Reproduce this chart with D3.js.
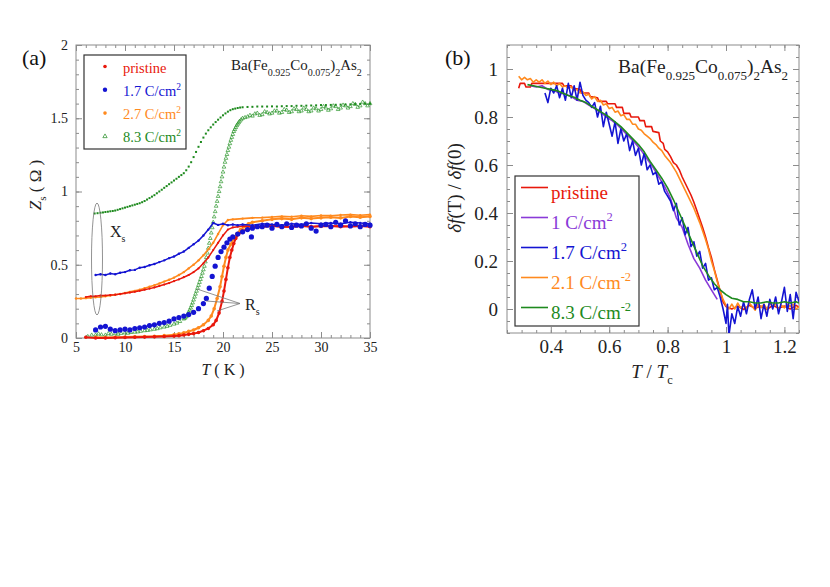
<!DOCTYPE html>
<html>
<head>
<meta charset="utf-8">
<script src="https://cdn.jsdelivr.net/npm/d3@7"></script>
<style>
  body { margin: 0; background: #fff; }
  svg { display: block; font-family: "Liberation Serif", "Times New Roman", serif; }
</style>
</head>
<body>
<svg id="chart" width="830" height="587"></svg>
<script>
/* ---------- colours ---------- */
const RED = '#e8180c', BLUE = '#1414d2', ORANGE = '#ff8a1e', GREEN = '#1e8a1e', PURPLE = '#8a3ad8';
const FRAME = '#8c8c8c';
const SERIF = '"Liberation Serif", "Times New Roman", serif';

/* ---------- panel (a) data : [T (K), Z (ohm)] ---------- */
const pristineXs = [[6,0.28],[6.5,0.285],[7,0.285],[7.5,0.29],[8,0.29],[8.5,0.293],[9,0.296],[9.5,0.3],[10,0.305],[10.5,0.31],[11,0.315],[11.5,0.322],[12,0.33],[12.5,0.337],[13,0.345],[13.5,0.355],[14,0.365],[14.5,0.375],[15,0.388],[15.5,0.4],[16,0.415],[16.5,0.43],[17,0.45],[17.5,0.475],[18,0.51],[18.5,0.55],[19,0.6],[19.5,0.65],[20,0.7],[20.5,0.74],[21,0.755],[21.5,0.76],[22,0.762],[23,0.765],[24,0.76],[25,0.765],[26,0.76],[27,0.763],[28,0.766],[29,0.76],[30,0.765],[31,0.762],[32,0.766],[33,0.76],[34,0.765],[35,0.762]];
const pristineRs = [[6,0.005],[7,0.0],[8,0.0],[9,0.002],[10,0.003],[11,0.005],[12,0.006],[13,0.008],[14,0.01],[15,0.013],[15.5,0.016],[16,0.02],[16.5,0.025],[17,0.03],[17.5,0.038],[18,0.05],[18.5,0.065],[19,0.09],[19.3,0.12],[19.6,0.17],[19.9,0.25],[20.1,0.32],[20.3,0.4],[20.5,0.48],[20.7,0.55],[20.9,0.6],[21.1,0.645],[21.3,0.68],[21.6,0.71],[22,0.73],[22.5,0.745],[23,0.755],[24,0.76],[25,0.765],[26,0.76],[27,0.758],[28,0.765],[29,0.76],[30,0.762],[31,0.765],[32,0.76],[33,0.762],[34,0.765],[35,0.76]];

const c17Xs = [[7,0.43],[7.5,0.435],[8,0.43],[8.5,0.44],[9,0.435],[9.5,0.445],[10,0.45],[10.5,0.462],[11,0.465],[11.5,0.48],[12,0.485],[12.5,0.497],[13,0.505],[13.5,0.518],[14,0.53],[14.5,0.545],[15,0.556],[15.5,0.575],[16,0.59],[16.5,0.615],[17,0.64],[17.5,0.665],[18,0.7],[18.5,0.74],[19,0.785],[19.5,0.772],[20,0.78],[20.5,0.77],[21,0.775],[21.5,0.77],[22,0.775],[23,0.77],[24,0.78],[25,0.775],[26,0.77],[27,0.78],[28,0.775],[29,0.785],[30,0.78],[31,0.785],[32,0.78],[33,0.79],[34,0.785],[35,0.78]];
const c17Rs = [[7,0.055],[7.5,0.075],[8,0.08],[8.5,0.06],[9,0.05],[9.5,0.055],[10,0.06],[10.5,0.055],[11,0.065],[11.5,0.07],[12,0.075],[12.5,0.085],[13,0.09],[13.5,0.1],[14,0.105],[14.5,0.115],[15,0.13],[15.5,0.14],[16,0.15],[16.5,0.16],[17,0.175],[17.5,0.2],[18,0.235],[18.3,0.27],[18.6,0.34],[18.9,0.42],[19.2,0.49],[19.5,0.55],[19.8,0.59],[20.1,0.62],[20.4,0.65],[20.7,0.675],[21,0.69],[21.5,0.71],[22,0.725],[22.5,0.74],[22.9,0.69],[23,0.75],[23.5,0.76],[24,0.76],[24.5,0.77],[25,0.75],[25.5,0.775],[26,0.76],[26.5,0.78],[27,0.755],[27.5,0.77],[28,0.765],[28.5,0.78],[29,0.75],[29.5,0.73],[30,0.77],[30.5,0.775],[31,0.76],[31.5,0.79],[32,0.77],[32.5,0.8],[33,0.765],[33.5,0.78],[34,0.76],[34.5,0.775],[35,0.77]];

const c27Xs = [[5,0.27],[5.5,0.27],[6,0.272],[6.5,0.275],[7,0.278],[7.5,0.28],[8,0.285],[8.5,0.29],[9,0.295],[9.5,0.3],[10,0.307],[10.5,0.315],[11,0.322],[11.5,0.33],[12,0.34],[12.5,0.35],[13,0.36],[13.5,0.372],[14,0.385],[14.5,0.398],[15,0.412],[15.5,0.43],[16,0.45],[16.5,0.475],[17,0.5],[17.5,0.53],[18,0.565],[18.5,0.605],[19,0.65],[19.5,0.71],[20,0.77],[20.5,0.805],[21,0.81],[22,0.815],[23,0.82],[24,0.822],[25,0.826],[26,0.83],[27,0.828],[28,0.834],[29,0.83],[30,0.836],[31,0.835],[32,0.84],[33,0.842],[34,0.838],[35,0.842]];
const c27Rs = [[7,0.005],[8,0.003],[9,0.005],[10,0.006],[11,0.008],[12,0.01],[13,0.012],[14,0.016],[15,0.022],[15.5,0.028],[16,0.035],[16.5,0.045],[17,0.055],[17.5,0.07],[18,0.09],[18.5,0.12],[18.8,0.15],[19.1,0.2],[19.4,0.27],[19.7,0.35],[19.9,0.42],[20.1,0.49],[20.3,0.55],[20.5,0.6],[20.8,0.64],[21.1,0.68],[21.4,0.71],[21.8,0.74],[22.2,0.76],[22.6,0.78],[23,0.79],[24,0.8],[25,0.81],[26,0.815],[27,0.81],[28,0.82],[29,0.815],[30,0.82],[31,0.825],[32,0.82],[33,0.83],[34,0.825],[35,0.83]];

const c83Xs = [[6.9,0.85],[7.2,0.852],[7.5,0.855],[7.75,0.857],[8,0.86],[8.25,0.862],[8.5,0.865],[8.75,0.867],[9,0.87],[9.25,0.875],[9.5,0.88],[9.75,0.885],[10,0.89],[10.25,0.895],[10.5,0.9],[10.75,0.905],[11,0.91],[11.25,0.915],[11.5,0.92],[11.75,0.927],[12,0.935],[12.25,0.945],[12.5,0.955],[12.75,0.965],[13,0.975],[13.25,0.988],[13.5,1.0],[13.75,1.012],[14,1.025],[14.25,1.037],[14.5,1.05],[14.75,1.062],[15,1.075],[15.25,1.087],[15.5,1.1],[15.75,1.112],[16,1.125],[16.25,1.145],[16.5,1.17],[16.75,1.2],[17,1.235],[17.25,1.27],[17.5,1.305],[17.75,1.338],[18,1.368],[18.25,1.395],[18.5,1.418],[18.75,1.438],[19,1.457],[19.25,1.474],[19.5,1.49],[19.75,1.505],[20,1.52],[20.25,1.533],[20.5,1.545],[20.75,1.555],[21,1.562],[21.25,1.566],[21.5,1.57],[21.75,1.573],[22,1.575],[22.5,1.577],[23,1.578],[23.5,1.58],[24,1.58],[24.5,1.58],[25,1.581],[25.5,1.58],[26,1.582],[26.5,1.583],[27,1.583],[27.5,1.585],[28,1.585],[28.5,1.586],[29,1.587],[29.5,1.588],[30,1.59],[30.5,1.59],[31,1.591],[31.5,1.592],[32,1.593],[32.5,1.594],[33,1.595],[33.5,1.597],[34,1.598],[34.5,1.6],[35,1.6]];
const c83Rs = [[6.2,0.01],[6.6,0.02],[7,0.02],[7.3,0.028],[7.6,0.022],[8,0.02],[8.3,0.03],[8.6,0.026],[9,0.03],[9.3,0.026],[9.6,0.032],[10,0.035],[10.3,0.033],[10.6,0.038],[11,0.04],[11.3,0.042],[11.6,0.046],[12,0.05],[12.3,0.052],[12.6,0.056],[13,0.06],[13.3,0.064],[13.6,0.07],[14,0.075],[14.3,0.08],[14.6,0.087],[15,0.095],[15.3,0.102],[15.6,0.113],[16,0.13],[16.1,0.135],[16.2,0.143],[16.3,0.15],[16.4,0.163],[16.5,0.176],[16.6,0.19],[16.7,0.205],[16.8,0.222],[16.9,0.24],[17,0.26],[17.1,0.28],[17.2,0.3],[17.3,0.32],[17.4,0.34],[17.5,0.36],[17.6,0.38],[17.7,0.4],[17.8,0.42],[17.9,0.443],[18,0.466],[18.1,0.49],[18.2,0.52],[18.3,0.55],[18.4,0.58],[18.5,0.613],[18.6,0.647],[18.7,0.68],[18.8,0.717],[18.9,0.753],[19,0.79],[19.1,0.827],[19.2,0.863],[19.3,0.9],[19.4,0.933],[19.5,0.967],[19.6,1.0],[19.7,1.033],[19.8,1.067],[19.9,1.1],[20,1.133],[20.1,1.167],[20.2,1.2],[20.3,1.227],[20.4,1.253],[20.5,1.28],[20.6,1.303],[20.7,1.327],[20.8,1.35],[20.9,1.37],[21,1.39],[21.1,1.41],[21.2,1.423],[21.3,1.437],[21.4,1.45],[21.5,1.46],[21.6,1.47],[21.7,1.48],[21.85,1.49],[22,1.5],[22.25,1.505],[22.5,1.51],[22.75,1.52],[23,1.515],[23.25,1.53],[23.5,1.535],[23.75,1.52],[24,1.525],[24.25,1.545],[24.5,1.54],[24.75,1.53],[25,1.535],[25.25,1.55],[25.5,1.55],[25.75,1.535],[26,1.54],[26.25,1.56],[26.5,1.555],[26.75,1.54],[27,1.545],[27.25,1.565],[27.5,1.56],[27.75,1.545],[28,1.55],[28.25,1.57],[28.5,1.56],[28.75,1.545],[29,1.55],[29.25,1.57],[29.5,1.565],[29.75,1.55],[30,1.56],[30.25,1.58],[30.5,1.57],[30.75,1.555],[31,1.565],[31.25,1.585],[31.5,1.58],[31.75,1.56],[32,1.57],[32.25,1.59],[32.5,1.585],[32.75,1.57],[33,1.58],[33.25,1.6],[33.5,1.595],[33.75,1.575],[34,1.585],[34.25,1.61],[34.5,1.6],[34.75,1.585],[35,1.6]];

const legendA = ['pristine', '1.7 C/cm', '2.7 C/cm', '8.3 C/cm'];

/* ---------- panel (b) data : [T/Tc, df(T)/df(0)] ---------- */
const bPristine = [[0.29,0.92],[0.295,0.94],[0.31,0.94],[0.315,0.925],[0.33,0.925],[0.335,0.94],[0.44,0.94],[0.445,0.93],[0.47,0.93],[0.475,0.92],[0.5,0.915],[0.505,0.9],[0.53,0.9],[0.535,0.885],[0.56,0.88],[0.565,0.865],[0.59,0.865],[0.595,0.855],[0.62,0.855],[0.625,0.84],[0.645,0.84],[0.65,0.815],[0.67,0.815],[0.675,0.8],[0.7,0.8],[0.705,0.785],[0.72,0.785],[0.725,0.76],[0.745,0.76],[0.75,0.74],[0.77,0.735],[0.775,0.7],[0.785,0.69],[0.79,0.665],[0.8,0.655],[0.81,0.635],[0.82,0.61],[0.83,0.6],[0.84,0.58],[0.85,0.55],[0.86,0.525],[0.87,0.5],[0.88,0.475],[0.89,0.445],[0.9,0.41],[0.91,0.375],[0.92,0.34],[0.93,0.3],[0.94,0.255],[0.95,0.215],[0.96,0.165],[0.97,0.12],[0.98,0.075],[0.99,0.03],[1.0,0.01],[1.02,0.0],[1.04,0.012],[1.06,-0.002],[1.08,0.015],[1.1,0.003],[1.12,0.012],[1.14,-0.002],[1.16,0.015],[1.18,0.004],[1.2,0.012],[1.22,0.0],[1.24,0.015],[1.25,0.008]];
const b1 = [[0.33,0.93],[0.35,0.925],[0.37,0.93],[0.39,0.915],[0.41,0.91],[0.43,0.9],[0.45,0.895],[0.47,0.885],[0.49,0.87],[0.51,0.865],[0.53,0.85],[0.55,0.835],[0.57,0.82],[0.59,0.8],[0.61,0.785],[0.63,0.765],[0.65,0.74],[0.67,0.715],[0.69,0.69],[0.71,0.66],[0.73,0.625],[0.75,0.59],[0.77,0.55],[0.79,0.51],[0.81,0.46],[0.83,0.38],[0.85,0.34],[0.87,0.27],[0.89,0.21],[0.91,0.17],[0.93,0.12],[0.95,0.08],[0.97,0.04]];
const b17 = [[0.38,0.9],[0.39,0.86],[0.4,0.92],[0.41,0.9],[0.42,0.93],[0.43,0.88],[0.44,0.92],[0.45,0.87],[0.46,0.94],[0.47,0.88],[0.48,0.93],[0.49,0.87],[0.5,0.945],[0.51,0.89],[0.52,0.87],[0.53,0.86],[0.54,0.84],[0.55,0.86],[0.56,0.8],[0.57,0.845],[0.58,0.76],[0.59,0.82],[0.6,0.77],[0.61,0.72],[0.62,0.78],[0.63,0.69],[0.64,0.75],[0.65,0.7],[0.66,0.73],[0.67,0.66],[0.68,0.7],[0.69,0.64],[0.7,0.67],[0.71,0.6],[0.72,0.65],[0.73,0.58],[0.74,0.6],[0.75,0.56],[0.76,0.57],[0.77,0.52],[0.78,0.53],[0.79,0.49],[0.8,0.47],[0.81,0.45],[0.82,0.41],[0.83,0.44],[0.84,0.35],[0.85,0.38],[0.86,0.31],[0.87,0.34],[0.88,0.26],[0.89,0.28],[0.9,0.22],[0.91,0.24],[0.92,0.17],[0.93,0.19],[0.94,0.12],[0.95,0.13],[0.96,0.08],[0.97,0.09],[0.98,0.05],[0.99,0.0],[1.0,-0.06],[1.005,0.02],[1.01,-0.11],[1.02,-0.02],[1.03,-0.06],[1.04,0.01],[1.05,-0.03],[1.06,0.03],[1.07,-0.02],[1.08,0.04],[1.09,0.08],[1.1,0.0],[1.11,0.05],[1.12,-0.04],[1.13,0.02],[1.14,-0.03],[1.15,0.04],[1.16,0.0],[1.17,0.05],[1.18,-0.02],[1.19,0.03],[1.2,0.09],[1.21,-0.01],[1.22,0.06],[1.23,-0.04],[1.24,0.07],[1.25,0.03]];
const b21 = [[0.29,0.97],[0.3,0.955],[0.31,0.965],[0.32,0.955],[0.33,0.96],[0.34,0.945],[0.35,0.955],[0.36,0.945],[0.37,0.955],[0.38,0.94],[0.39,0.95],[0.4,0.935],[0.41,0.945],[0.42,0.93],[0.43,0.94],[0.44,0.925],[0.45,0.93],[0.46,0.92],[0.47,0.925],[0.48,0.91],[0.49,0.915],[0.5,0.9],[0.51,0.905],[0.52,0.89],[0.53,0.895],[0.54,0.875],[0.55,0.885],[0.56,0.865],[0.57,0.87],[0.58,0.85],[0.59,0.855],[0.6,0.835],[0.61,0.84],[0.62,0.82],[0.63,0.825],[0.64,0.805],[0.65,0.81],[0.66,0.79],[0.67,0.79],[0.68,0.77],[0.69,0.77],[0.7,0.75],[0.71,0.745],[0.72,0.73],[0.73,0.72],[0.74,0.71],[0.75,0.695],[0.76,0.685],[0.77,0.67],[0.78,0.66],[0.79,0.64],[0.8,0.625],[0.81,0.61],[0.82,0.59],[0.83,0.57],[0.84,0.545],[0.85,0.52],[0.86,0.495],[0.87,0.47],[0.88,0.445],[0.89,0.42],[0.9,0.39],[0.91,0.36],[0.92,0.325],[0.93,0.29],[0.94,0.25],[0.95,0.2],[0.96,0.16],[0.97,0.115],[0.98,0.075],[0.99,0.04],[1.0,0.015],[1.01,0.0],[1.02,0.02],[1.03,0.0],[1.04,0.025],[1.05,0.005],[1.06,0.015],[1.07,0.0],[1.08,0.025],[1.09,0.01],[1.1,-0.005],[1.11,0.02],[1.12,0.005],[1.13,0.02],[1.14,0.0],[1.15,0.025],[1.16,0.01],[1.17,0.02],[1.18,0.0],[1.19,0.015],[1.2,0.005],[1.21,0.02],[1.22,0.01],[1.23,0.02],[1.24,0.0],[1.25,0.01]];
const b83 = [[0.32,0.935],[0.34,0.93],[0.36,0.925],[0.38,0.92],[0.4,0.915],[0.42,0.91],[0.44,0.9],[0.46,0.89],[0.48,0.882],[0.5,0.87],[0.52,0.86],[0.54,0.845],[0.56,0.83],[0.58,0.815],[0.6,0.8],[0.62,0.78],[0.64,0.76],[0.66,0.735],[0.68,0.71],[0.7,0.685],[0.72,0.655],[0.74,0.615],[0.76,0.58],[0.78,0.545],[0.8,0.505],[0.82,0.455],[0.84,0.4],[0.86,0.345],[0.88,0.29],[0.9,0.235],[0.92,0.18],[0.94,0.14],[0.96,0.105],[0.98,0.08],[1.0,0.06],[1.02,0.045],[1.04,0.04],[1.06,0.03],[1.08,0.03],[1.1,0.025],[1.12,0.025],[1.14,0.03],[1.16,0.025],[1.18,0.025],[1.2,0.03],[1.22,0.025],[1.24,0.03],[1.25,0.025]];

const legendB = ['pristine', '1 C/cm', '1.7 C/cm', '2.1 C/cm', '8.3 C/cm'];
const legendBExp = ['', '2', '2', '-2', '-2'];

/* ---------- ticks ---------- */
const aXTicks = [5, 10, 15, 20, 25, 30, 35];
const aYTicks = [0, 0.5, 1, 1.5, 2];
const bXTicks = [0.4, 0.6, 0.8, 1, 1.2];
const bYTicks = [0, 0.2, 0.4, 0.6, 0.8, 1];

const svg = d3.select('#chart');
svg.append('rect').attr('width', 830).attr('height', 587).attr('fill', '#fff');

/* helper: frame with inward ticks on all four sides */
function drawFrame(g, x, y, o) {
  const [x0, x1] = x.range(), [y0, y1] = y.range();
  const sides = [
    [d3.axisBottom(x), `translate(0,${y0})`, true],
    [d3.axisTop(x), `translate(0,${y1})`, false],
    [d3.axisLeft(y), `translate(${x0},0)`, true],
    [d3.axisRight(y), `translate(${x1},0)`, false]
  ];
  sides.forEach(([ax, tr, lab], i) => {
    const isX = i < 2;
    const maj = isX ? o.xMaj : o.yMaj, min = isX ? o.xMin : o.yMin;
    g.append('g').attr('transform', tr)
      .call(ax.tickValues(min).tickSizeInner(-3).tickSizeOuter(0).tickFormat(''))
      .call(s => s.select('.domain').remove())
      .selectAll('line').attr('stroke', FRAME);
    const a = g.append('g').attr('transform', tr)
      .call(ax.tickValues(maj).tickSizeInner(-6).tickSizeOuter(0)
        .tickPadding(isX ? o.xPad : o.yPad).tickFormat(lab ? d3.format('') : ''))
      .call(s => s.select('.domain').remove());
    a.attr('font-family', SERIF);
    a.selectAll('line').attr('stroke', FRAME);
    a.selectAll('text').style('font-family', SERIF)
      .attr('font-size', o.fs).attr('fill', '#222');
  });
  g.append('rect').attr('x', x0).attr('y', y1).attr('width', x1 - x0).attr('height', y0 - y1)
    .attr('fill', 'none').attr('stroke', FRAME).attr('stroke-width', 1);
}

function range(a, b, s) { return d3.range(Math.round((b - a) / s) + 1).map(i => +(a + i * s).toFixed(3)); }

/* ======================= PANEL (a) ======================= */
const ga = svg.append('g');
const xa = d3.scaleLinear().domain([5, 35]).range([76, 370]);
const ya = d3.scaleLinear().domain([0, 2]).range([338, 45]);
drawFrame(ga, xa, ya, {
  xMaj: aXTicks, xMin: range(5, 35, 1), yMaj: aYTicks, yMin: range(0, 2, 0.1),
  xPad: 4, yPad: 8, fs: 14
});

const lineA = d3.line().x(d => xa(d[0])).y(d => ya(d[1]));
const plotA = ga.append('g');

// 8.3 C/cm2 (green) : Xs small squares, Rs small open triangles
plotA.selectAll('.g83r').data(c83Rs).join('path').attr('class', 'g83r')
  .attr('transform', d => `translate(${xa(d[0])},${ya(d[1])})`)
  .attr('d', d3.symbol(d3.symbolTriangle, 6)).attr('fill', 'none')
  .attr('stroke', '#2c962c').attr('stroke-width', 0.7);
plotA.selectAll('.g83x').data(c83Xs).join('rect').attr('class', 'g83x')
  .attr('x', d => xa(d[0]) - 1).attr('y', d => ya(d[1]) - 1)
  .attr('width', 2).attr('height', 2).attr('fill', GREEN);

// 2.7 C/cm2 (orange)
[c27Xs, c27Rs].forEach((s, i) => {
  plotA.append('path').datum(s).attr('d', lineA).attr('fill', 'none')
    .attr('stroke', ORANGE).attr('stroke-width', i ? 2 : 1.6);
  plotA.selectAll(null).data(s).join('circle')
    .attr('cx', d => xa(d[0])).attr('cy', d => ya(d[1])).attr('r', i ? 1.8 : 1.2).attr('fill', ORANGE);
});

// pristine (red)
[pristineXs, pristineRs].forEach((s, i) => {
  plotA.append('path').datum(s).attr('d', lineA).attr('fill', 'none')
    .attr('stroke', RED).attr('stroke-width', i ? 2 : 1.5);
  plotA.selectAll(null).data(s).join('circle')
    .attr('cx', d => xa(d[0])).attr('cy', d => ya(d[1])).attr('r', i ? 1.8 : 1.1).attr('fill', RED);
});

// 1.7 C/cm2 (blue)
plotA.append('path').datum(c17Xs).attr('d', lineA).attr('fill', 'none')
  .attr('stroke', BLUE).attr('stroke-width', 1.5);
plotA.selectAll('.b17x').data(c17Xs).join('circle').attr('class', 'b17x')
  .attr('cx', d => xa(d[0])).attr('cy', d => ya(d[1])).attr('r', 1.2).attr('fill', BLUE);
plotA.selectAll('.b17r').data(c17Rs).join('circle').attr('class', 'b17r')
  .attr('cx', d => xa(d[0])).attr('cy', d => ya(d[1])).attr('r', 2.6).attr('fill', BLUE);

// Xs ellipse and Rs pointer lines
ga.append('ellipse').attr('cx', 97).attr('cy', 259).attr('rx', 5.5).attr('ry', 56)
  .attr('fill', 'none').attr('stroke', '#777').attr('stroke-width', 0.8);
const xsT = ga.append('text').attr('x', 110).attr('y', 237).attr('font-size', 16).attr('fill', '#222');
xsT.append('tspan').text('X');
xsT.append('tspan').attr('dy', 5).attr('font-size', 10).text('s');
[[197, 289], [206, 301], [217, 311]].forEach(p => {
  ga.append('line').attr('x1', 240).attr('y1', 303.5).attr('x2', p[0]).attr('y2', p[1])
    .attr('stroke', '#777').attr('stroke-width', 0.8);
});
const rsT = ga.append('text').attr('x', 245).attr('y', 310).attr('font-size', 16).attr('fill', '#222');
rsT.append('tspan').text('R');
rsT.append('tspan').attr('dy', 5).attr('font-size', 10).text('s');

// legend (a)
ga.append('rect').attr('x', 84).attr('y', 55).attr('width', 102).attr('height', 94)
  .attr('fill', '#fff').attr('stroke', '#333').attr('stroke-width', 1.2);
const legColA = [RED, BLUE, ORANGE, GREEN];
legendA.forEach((lab, i) => {
  const by = 72.5 + i * 23.3;
  if (i === 3) {
    ga.append('path').attr('transform', `translate(105,${by - 6})`)
      .attr('d', d3.symbol(d3.symbolTriangle, 8)).attr('fill', 'none')
      .attr('stroke', GREEN).attr('stroke-width', 0.7);
  } else {
    ga.append('circle').attr('cx', 105).attr('cy', by - 6).attr('r', i === 1 ? 2.2 : 1.8).attr('fill', legColA[i]);
  }
  const t = ga.append('text').attr('x', 123).attr('y', by).attr('font-size', 14.5).attr('fill', legColA[i]);
  t.append('tspan').text(lab);
  if (i > 0) t.append('tspan').attr('dy', -6).attr('font-size', 9.5).text('2');
});

// compound label
function formula(g, x, y, fs, sfs, drop) {
  const t = g.append('text').attr('x', x).attr('y', y).attr('font-size', fs).attr('fill', '#222');
  const parts = [['Ba(Fe', 0], ['0.925', 1], ['Co', 0], ['0.075', 1], [')', 0], ['2', 1], ['As', 0], ['2', 1]];
  let cur = 0;
  parts.forEach(([s, sub]) => {
    const target = sub ? drop : 0;
    t.append('tspan').attr('dy', target - cur).attr('font-size', sub ? sfs : fs).text(s);
    cur = target;
  });
}
formula(ga, 231, 70, 15, 10, 6);

ga.append('text').attr('x', 22).attr('y', 65).attr('font-size', 22).attr('fill', '#111').text('(a)');

// axis titles (a)
const xlA = ga.append('text').attr('x', 223).attr('y', 375).attr('text-anchor', 'middle')
  .attr('font-size', 16).attr('fill', '#222');
xlA.append('tspan').attr('font-style', 'italic').text('T');
xlA.append('tspan').text(' ( K )');
const ylA = ga.append('text').attr('transform', 'translate(41,185) rotate(-90)')
  .attr('text-anchor', 'middle').attr('font-size', 17).attr('fill', '#222');
ylA.append('tspan').attr('font-style', 'italic').text('Z');
ylA.append('tspan').attr('dy', 5).attr('font-size', 11).text('s');
ylA.append('tspan').attr('dy', -5).text(' ( Ω )');

/* ======================= PANEL (b) ======================= */
const gb = svg.append('g');
const xb = d3.scaleLinear().domain([0.25, 1.25]).range([507, 799]);
const yb = d3.scaleLinear().domain([-0.1, 1.1]).range([333, 45]);
drawFrame(gb, xb, yb, {
  xMaj: bXTicks, xMin: range(0.25, 1.25, 0.05), yMaj: bYTicks, yMin: range(-0.1, 1.1, 0.05),
  xPad: 7, yPad: 9, fs: 19
});

gb.append('clipPath').attr('id', 'clipB').append('rect')
  .attr('x', 507).attr('y', 45).attr('width', 292).attr('height', 288);
const lineB = d3.line().x(d => xb(d[0])).y(d => yb(d[1]));
const plotB = gb.append('g').attr('clip-path', 'url(#clipB)');
[[bPristine, RED], [b21, ORANGE], [b1, PURPLE], [b17, BLUE], [b83, GREEN]].forEach(([s, c]) => {
  plotB.append('path').datum(s).attr('d', lineB).attr('fill', 'none')
    .attr('stroke', c).attr('stroke-width', 1.6).attr('stroke-linejoin', 'round');
});

// legend (b)
gb.append('rect').attr('x', 515).attr('y', 176).attr('width', 124).attr('height', 150)
  .attr('fill', '#fff').attr('stroke', '#333').attr('stroke-width', 1.2);
const legColB = [RED, PURPLE, BLUE, ORANGE, GREEN];
legendB.forEach((lab, i) => {
  const by = 198.5 + i * 30;
  gb.append('line').attr('x1', 521).attr('x2', 548).attr('y1', by - 11).attr('y2', by - 11)
    .attr('stroke', legColB[i]).attr('stroke-width', 1.6);
  const t = gb.append('text').attr('x', 551).attr('y', by).attr('font-size', 19).attr('fill', legColB[i]);
  t.append('tspan').text(lab);
  if (legendBExp[i]) t.append('tspan').attr('dy', -8).attr('font-size', 12.5).text(legendBExp[i]);
});

formula(gb, 618, 73, 19.5, 13, 7);
gb.append('text').attr('x', 445).attr('y', 65).attr('font-size', 22).attr('fill', '#111').text('(b)');

// axis titles (b)
const xlB = gb.append('text').attr('x', 652).attr('y', 378).attr('text-anchor', 'middle')
  .attr('font-size', 19).attr('fill', '#222');
xlB.append('tspan').attr('font-style', 'italic').text('T');
xlB.append('tspan').text(' / ');
xlB.append('tspan').attr('font-style', 'italic').text('T');
xlB.append('tspan').attr('dy', 6).attr('font-size', 12.5).text('c');
const ylB = gb.append('text').attr('transform', 'translate(461,188) rotate(-90)')
  .attr('text-anchor', 'middle').attr('font-size', 19).attr('fill', '#222');
ylB.append('tspan').attr('font-style', 'italic').text('δf');
ylB.append('tspan').text('(T) / ');
ylB.append('tspan').attr('font-style', 'italic').text('δf');
ylB.append('tspan').text('(0)');
</script>
</body>
</html>
